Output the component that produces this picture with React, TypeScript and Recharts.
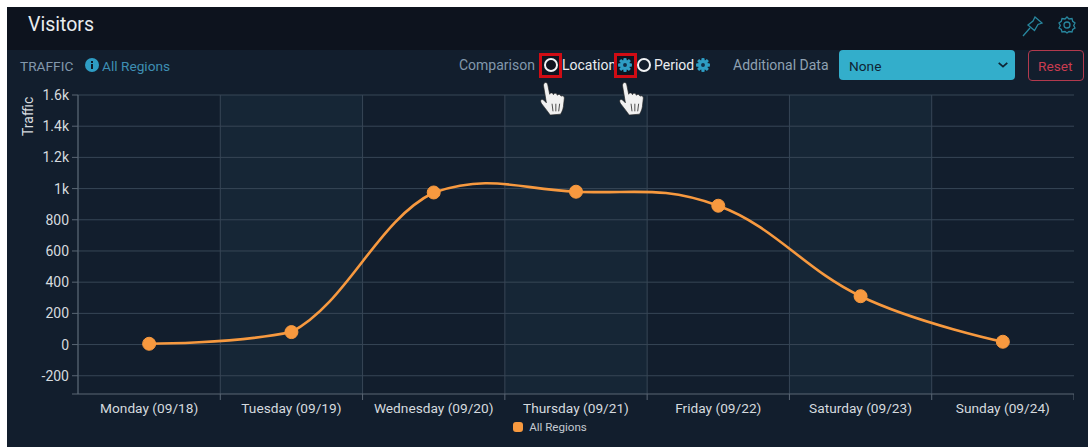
import React from 'react';
import { ComposedChart, Line, XAxis, YAxis, CartesianGrid, Legend, Label } from 'recharts';

const days = ['Monday (09/18)', 'Tuesday (09/19)', 'Wednesday (09/20)', 'Thursday (09/21)', 'Friday (09/22)', 'Saturday (09/23)', 'Sunday (09/24)'];
const traffic = [5, 80, 975, 980, 890, 310, 18];
const yTicks = [-317, -200, 0, 200, 400, 600, 800, 1000, 1200, 1400, 1600];
const data = days.map((day, i) => ({ day, 'All Regions': traffic[i] }));

const ORANGE = '#F7993F';
const SMOOTH = 1.5;
const MAX_RISE = 18;

// Highcharts-style spline with limited overshoot
function splineCurve(context: any) {
  let pts: [number, number][] = [];
  return {
    areaStart() {}, areaEnd() {},
    lineStart() { pts = []; },
    point(x: number, y: number) { pts.push([+x, +y]); },
    lineEnd() {
      if (!pts.length) return;
      context.moveTo(pts[0][0], pts[0][1]);
      const limit = (cy: number, a: number, b: number) =>
        Math.min(Math.max(cy, Math.min(a, b) - MAX_RISE), Math.max(a, b));
      const conts = pts.map((p, i) => {
        const prev = pts[i - 1], next = pts[i + 1];
        if (!prev || !next) return { lx: p[0], ly: p[1], rx: p[0], ry: p[1] };
        const d = SMOOTH + 1;
        const lx = (SMOOTH * p[0] + prev[0]) / d, ly = (SMOOTH * p[1] + prev[1]) / d;
        const rx = (SMOOTH * p[0] + next[0]) / d, ry = (SMOOTH * p[1] + next[1]) / d;
        const c = ((ry - ly) * (rx - p[0])) / (rx - lx) + p[1] - ry;
        return { lx, ly: limit(ly + c, prev[1], p[1]), rx, ry: limit(ry + c, p[1], next[1]) };
      });
      for (let i = 1; i < pts.length; i++) {
        context.bezierCurveTo(conts[i - 1].rx, conts[i - 1].ry, conts[i].lx, conts[i].ly, pts[i][0], pts[i][1]);
      }
    },
  };
}

const fmt = (v: number) => (v === -317 ? '' : Math.abs(v) >= 1000 ? `${v / 1000}k` : `${v}`);

function XTick(props: any) {
  const { x, y, payload, index, width, visibleTicksCount } = props;
  const band = width / (visibleTicksCount || 7);
  const left = x - band / 2;
  const last = index === (visibleTicksCount || 7) - 1;
  return (
    <g>
      {index > 0 && <line x1={left} x2={left} y1={y - 8} y2={y - 2} stroke="#5A6674" />}
      {last && <line x1={x + band / 2} x2={x + band / 2} y1={y - 8} y2={y - 2} stroke="#5A6674" />}
      <text x={x} y={y + 11} textAnchor="middle" fill="#D5DADF" fontSize={13.7} fontFamily="Roboto">{payload.value}</text>
    </g>
  );
}

function LegendBox({ payload }: any) {
  return (
    <div style={{ display: 'flex', justifyContent: 'center', alignItems: 'center', fontFamily: 'Roboto', fontSize: 11.6, color: '#C4CAD1' }}>
      {(payload || []).map((p: any) => (
        <span key={p.value} style={{ display: 'flex', alignItems: 'center' }}>
          <span style={{ width: 10, height: 10, borderRadius: 3, background: ORANGE, marginRight: 6 }} />
          {p.value}
        </span>
      ))}
    </div>
  );
}

function Hand({ x, y }: { x: number; y: number }) {
  return (
    <svg width={30} height={36} viewBox="0 0 30 38" style={{ position: 'absolute', left: x, top: y }}>
      <path d="M6 2 C7.5 1 9 2 9.5 4 L11.5 14 C12 12 15 12 15.5 14.5 C16 12.5 19 12.5 19.5 15 C20.5 13.5 23 14 23.5 16 C24.5 15 27 15.5 27 18 L26 27 C25.5 31 24 33 23 35 L12 36 C10 33 7 29 3 24 C1 21 2 18.5 5 20 L8 23 L5 5 C5 4 5 3 6 2 Z" fill="#F1F1F1" stroke="#222" strokeWidth={0.7} />
      <path d="M14 24 L15 32 M18 24 L18 32 M22 24 L21 32" stroke="#444" strokeWidth={1} />
    </svg>
  );
}

function Gear({ x, y, size, color }: { x: number; y: number; size: number; color: string }) {
  const teeth = [0, 45, 90, 135, 180, 225, 270, 315];
  return (
    <svg width={size} height={size} viewBox="0 0 16 16" style={{ position: 'absolute', left: x, top: y }}>
      {teeth.map((a) => <rect key={a} x={6.4} y={0.3} width={3.2} height={15.4} rx={0.6} fill={color} transform={`rotate(${a} 8 8)`} />)}
      <circle cx={8} cy={8} r={5.6} fill={color} />
      <circle cx={8} cy={8} r={2.2} fill="#10304A" />
    </svg>
  );
}

const Txt = ({ x, y, size = 13.7, color, children, weight = 400 }: any) => (
  <div style={{ position: 'absolute', left: x, top: y, fontSize: size, color, fontWeight: weight, lineHeight: '16px', whiteSpace: 'nowrap' }}>{children}</div>
);

export default function App() {
  return (
    <div style={{ position: 'absolute', left: 0, top: 0, width: 1088, height: 447, background: '#fff', overflow: 'hidden', fontFamily: 'Roboto' }}>
      <div style={{ position: 'absolute', left: 7, top: 7, width: 1081, height: 440, background: '#121E2D' }} />
      <div style={{ position: 'absolute', left: 7, top: 7, width: 1081, height: 43, background: '#0D131E' }} />
      <Txt x={28} y={17} size={19.5} color="#E9ECEF">Visitors</Txt>
      <svg width={22} height={22} viewBox="0 0 22 22" style={{ position: 'absolute', left: 1022, top: 15 }} fill="none" stroke="#28879F" strokeWidth={1.3}>
        <path d="M1 21 L8 13 M13 2 L20 8 L16 9.5 L12.5 15.5 L6 10 L11 6 Z" />
      </svg>
      <svg width={18} height={18} viewBox="0 0 18 18" style={{ position: 'absolute', left: 1058, top: 16 }} fill="none" stroke="#28879F" strokeWidth={1.3}>
        <path d="M9 1 L11 3 L14 2.5 L14.7 5.3 L17 7 L15.7 9.5 L17 12 L14.7 13.5 L14 16 L11 15.5 L9 17 L7 15.5 L4 16 L3.3 13.5 L1 12 L2.3 9.5 L1 7 L3.3 5.3 L4 2.5 L7 3 Z" />
        <circle cx={9} cy={9} r={3} />
      </svg>

      <Txt x={20} y={58} color="#8298AC">TRAFFIC</Txt>
      <svg width={14} height={14} viewBox="0 0 14 14" style={{ position: 'absolute', left: 85, top: 58 }}>
        <circle cx={7} cy={7} r={7} fill="#2E9DC4" />
        <rect x={6} y={6} width={2} height={5} fill="#0F1B2A" />
        <rect x={6} y={3} width={2} height={2} fill="#0F1B2A" />
      </svg>
      <Txt x={102} y={58} color="#3E8FB3">All Regions</Txt>

      <Txt x={459} y={57} size={14} color="#8298AC">Comparison</Txt>
      <div style={{ position: 'absolute', left: 539, top: 53, width: 23, height: 25, background: '#0F1420', border: '3px solid #D00C14', boxSizing: 'border-box' }} />
      <div style={{ position: 'absolute', left: 544, top: 58, width: 14, height: 14, borderRadius: 7, border: '2px solid #F1F3F5', boxSizing: 'border-box' }} />
      <Txt x={562} y={57} size={14} color="#E9ECEF">Location</Txt>
      <div style={{ position: 'absolute', left: 614, top: 53, width: 23, height: 25, background: '#0F1420', border: '3px solid #D00C14', boxSizing: 'border-box' }} />
      <Gear x={618} y={58} size={14} color="#2E9DC4" />
      <div style={{ position: 'absolute', left: 637, top: 58, width: 14, height: 14, borderRadius: 7, border: '2px solid #F1F3F5', boxSizing: 'border-box' }} />
      <Txt x={654} y={57} size={14} color="#E9ECEF">Period</Txt>
      <Gear x={696} y={58} size={14} color="#2E9DC4" />
      <Txt x={733} y={57} size={14} color="#8FA1B2">Additional Data</Txt>
      <div style={{ position: 'absolute', left: 839, top: 50, width: 176, height: 30, background: '#33AECB', borderRadius: 4 }} />
      <Txt x={849} y={58} color="#0F2433">None</Txt>
      <svg width={12} height={8} viewBox="0 0 14 8" style={{ position: 'absolute', left: 997, top: 61 }} fill="none" stroke="#0F2433" strokeWidth={2}>
        <path d="M2 1.5 L7 6 L12 1.5" />
      </svg>
      <div style={{ position: 'absolute', left: 1028, top: 50, width: 56, height: 31, border: '1px solid #B23A4E', borderRadius: 4, boxSizing: 'border-box' }} />
      <Txt x={1038} y={58} color="#C93C50">Reset</Txt>

      <div style={{ position: 'absolute', left: 7, top: 0 }}>
        <ComposedChart
          width={1067}
          height={447}
          data={data}
          margin={{ top: 95, right: 0, bottom: 0, left: 0 }}
        >
          <CartesianGrid
            stroke="#374656"
            strokeWidth={1}
            verticalFill={['transparent', '#162636']}
            fillOpacity={1}
            verticalCoordinatesGenerator={({ offset }: any) =>
              days.map((_, i) => offset.left + (i * offset.width) / days.length)
            }
            horizontalValues={yTicks.filter((v) => v !== -317)}
          />
          <XAxis dataKey="day" scale="band" interval={0} height={53} tickLine={false} axisLine={{ stroke: '#5A6674' }} tick={<XTick />} />
          <YAxis
            type="number"
            domain={[-317, 1600]}
            ticks={yTicks}
            interval={0}
            width={71}
            tickFormatter={fmt}
            tick={{ fill: '#D5DADF', fontSize: 14, fontFamily: 'Roboto' }}
            tickLine={{ stroke: '#5A6674' }}
            tickSize={6}
            tickMargin={3}
            axisLine={{ stroke: '#5A6674' }}
          >
            <Label value="Traffic" angle={-90} position="insideTopLeft" dx={11} dy={36} fill="#D5DADF" fontSize={14} fontFamily="Roboto" />
          </YAxis>
          <Legend layout="horizontal" align="center" verticalAlign="middle" content={<LegendBox />} wrapperStyle={{ left: 0, width: 1086, top: 420, height: 14 }} />
          <Line
            dataKey="All Regions"
            type={splineCurve as any}
            stroke={ORANGE}
            strokeWidth={2.6}
            dot={{ r: 6.5, fill: ORANGE, stroke: ORANGE, strokeWidth: 1, fillOpacity: 1 }}
            legendType="square"
            isAnimationActive={false}
          />
        </ComposedChart>
      </div>
      <Hand x={538} y={81} />
      <Hand x={617} y={81} />
    </div>
  );
}
